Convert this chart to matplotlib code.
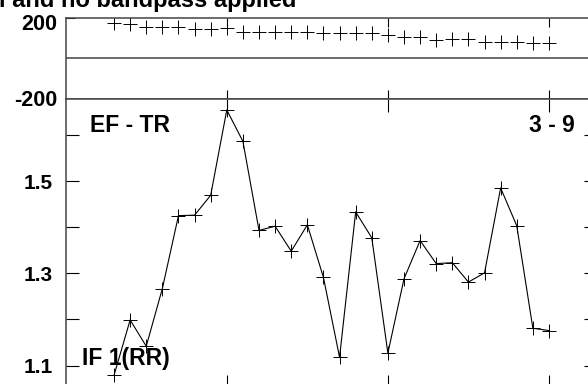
import matplotlib
matplotlib.use("Agg")
import matplotlib.pyplot as plt
import numpy as np

plt.rcParams["font.family"] = ["Liberation Sans", "DejaVu Sans"]
plt.rcParams["font.weight"] = "bold"
plt.rcParams["axes.unicode_minus"] = False

# data
x_idx = list(range(3, 31))
top_vals = [174, 168, 155, 155, 155, 142, 142, 147, 130, 130, 130, 130, 130, 122,
            122, 122, 122, 114, 105, 105, 89, 92, 92, 81, 81, 81, 76, 76]
ratio_vals = [1.079, 1.199, 1.142, 1.267, 1.425, 1.426, 1.469, 1.654, 1.586, 1.393,
              1.402, 1.348, 1.405, 1.291, 1.118, 1.433, 1.377, 1.127, 1.288, 1.371,
              1.321, 1.323, 1.281, 1.301, 1.485, 1.403, 1.181, 1.176]
x_ticks = [10, 20, 30]
top_yticks = [-200, 200]
top_ylabels = ["-200", "200"]
low_yticks = [1.1, 1.2, 1.3, 1.4, 1.5, 1.6]
low_ylabels = ["1.1", "", "1.3", "", "1.5", ""]

W, H = 588, 384
fig = plt.figure(figsize=(W / 100, H / 100), dpi=100)


def box(x0, y0, x1, y1):
    # pixel box (top-left origin) -> figure fraction rect
    return [x0 / W, 1 - y1 / H, (x1 - x0) / W, (y1 - y0) / H]


def px(x, y):
    return x / W, 1 - y / H


spine_col = "#444444"
ax_top = fig.add_axes(box(65.7, 17.5, 597.3, 98.5))
ax_low = fig.add_axes(box(65.7, 98.5, 597.3, 388))

for ax in (ax_top, ax_low):
    for s in ax.spines.values():
        s.set_color(spine_col)
        s.set_linewidth(1.1)
    ax.set_xlim(0, 33)
    ax.set_xticks(x_ticks)
    ax.set_xticklabels([])

ax_top.plot(x_idx, top_vals, linestyle="none", marker="+", color="black",
            markersize=9.5, markeredgewidth=0.7)
ax_top.axhline(0, color=spine_col, linewidth=1.1)
ax_top.set_ylim(-200, 200)
ax_top.set_yticks(top_yticks)
# the top label sits a little lower than its tick, as in the original
ax_top.set_yticklabels([top_ylabels[0], ""])
ax_top.tick_params(axis="both", direction="in", length=6.5, width=0.8, color="black",
                   top=True, right=True, labelsize=15.5, pad=6)
fig.text(*px(57.5, 21.5), top_ylabels[1], ha="right", va="center_baseline",
         fontsize=15.5, fontweight="bold")

ax_low.plot(x_idx, ratio_vals, color="black", linewidth=0.8, marker="+",
            markersize=9.5, markeredgewidth=0.7)
ax_low.set_ylim(1.0515, 1.6788)
ax_low.set_yticks(low_yticks)
ax_low.set_yticklabels(low_ylabels)
ax_low.tick_params(axis="both", direction="in", length=9.5, width=0.8, color="black",
                   top=True, right=True, labelsize=15, pad=9)

fig.text(*px(296, 7), "l and no bandpass applied", ha="right", va="baseline",
         fontsize=17, fontweight="bold")
fig.text(*px(90, 132), "EF - TR", ha="left", va="baseline", fontsize=16.5, fontweight="bold")
fig.text(*px(575, 132), "3 - 9", ha="right", va="baseline", fontsize=16.5, fontweight="bold")
fig.text(*px(82, 365), "IF 1(RR)", ha="left", va="baseline", fontsize=16.5, fontweight="bold")

fig.savefig("out.png", dpi=100, facecolor="white")
